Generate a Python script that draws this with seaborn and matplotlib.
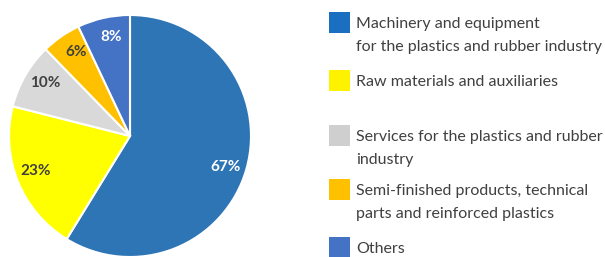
import numpy as np
import matplotlib
matplotlib.use("Agg")
import matplotlib.pyplot as plt
import seaborn as sns
from matplotlib.patches import Rectangle

sns.set_style("white")
plt.rcParams['font.family'] = ['Lato', 'DejaVu Sans']

# data
categories = ['Machinery and equipment\nfor the plastics and rubber industry',
              'Raw materials and auxiliaries',
              'Services for the plastics and rubber\nindustry',
              'Semi-finished products, technical\nparts and reinforced plastics',
              'Others']
values = [67, 23, 10, 6, 8]
pct_labels = ['67%', '23%', '10%', '6%', '8%']
colors = ['#2E75B6', '#FFFF00', '#D9D9D9', '#FFC000', '#4472C4']
legend_colors = ['#1B6FC0', '#FFF200', '#CFCFCF', '#FFC000', '#4472C4']
label_colors = ['white', '#404040', '#404040', '#404040', 'white']

W, H = 605, 257
fig = plt.figure(figsize=(W / 100, H / 100), dpi=100)

# pie axes: centre (130,136) px, radius 121 px
cx, cy, r = 130, 136, 121
ax = fig.add_axes([(cx - r) / W, (H - cy - r) / H, 2 * r / W, 2 * r / H])
wedges, _ = ax.pie(values, colors=colors, startangle=90, counterclock=False,
                   wedgeprops=dict(edgecolor='white', linewidth=1.5))
ax.set_xlim(-1, 1)
ax.set_ylim(-1, 1)
ax.set_aspect('equal')
for w in wedges:
    w.set_clip_on(False)

for w, lab, c in zip(wedges, pct_labels, label_colors):
    ang = np.deg2rad((w.theta1 + w.theta2) / 2 - 2)
    ax.text(0.83 * np.cos(ang), 0.83 * np.sin(ang), lab, color=c,
            ha='center', va='center', fontsize=11, fontweight='bold')

# legend drawn manually
box_tops = [12, 70, 125, 179, 237]
box_x, box_s = 329, 21
text_x = 356
for top, lab, c in zip(box_tops, categories, legend_colors):
    fig.patches.append(Rectangle((box_x / W, (H - top - box_s) / H), box_s / W, box_s / H,
                                 transform=fig.transFigure, facecolor=c, edgecolor='none'))
    for i, line in enumerate(lab.split('\n')):
        base = top + 16 + i * 23
        fig.text(text_x / W, (H - base) / H, line, ha='left', va='baseline',
                 fontsize=11.5, color='#404040')

fig.savefig('out.png', dpi=100)
